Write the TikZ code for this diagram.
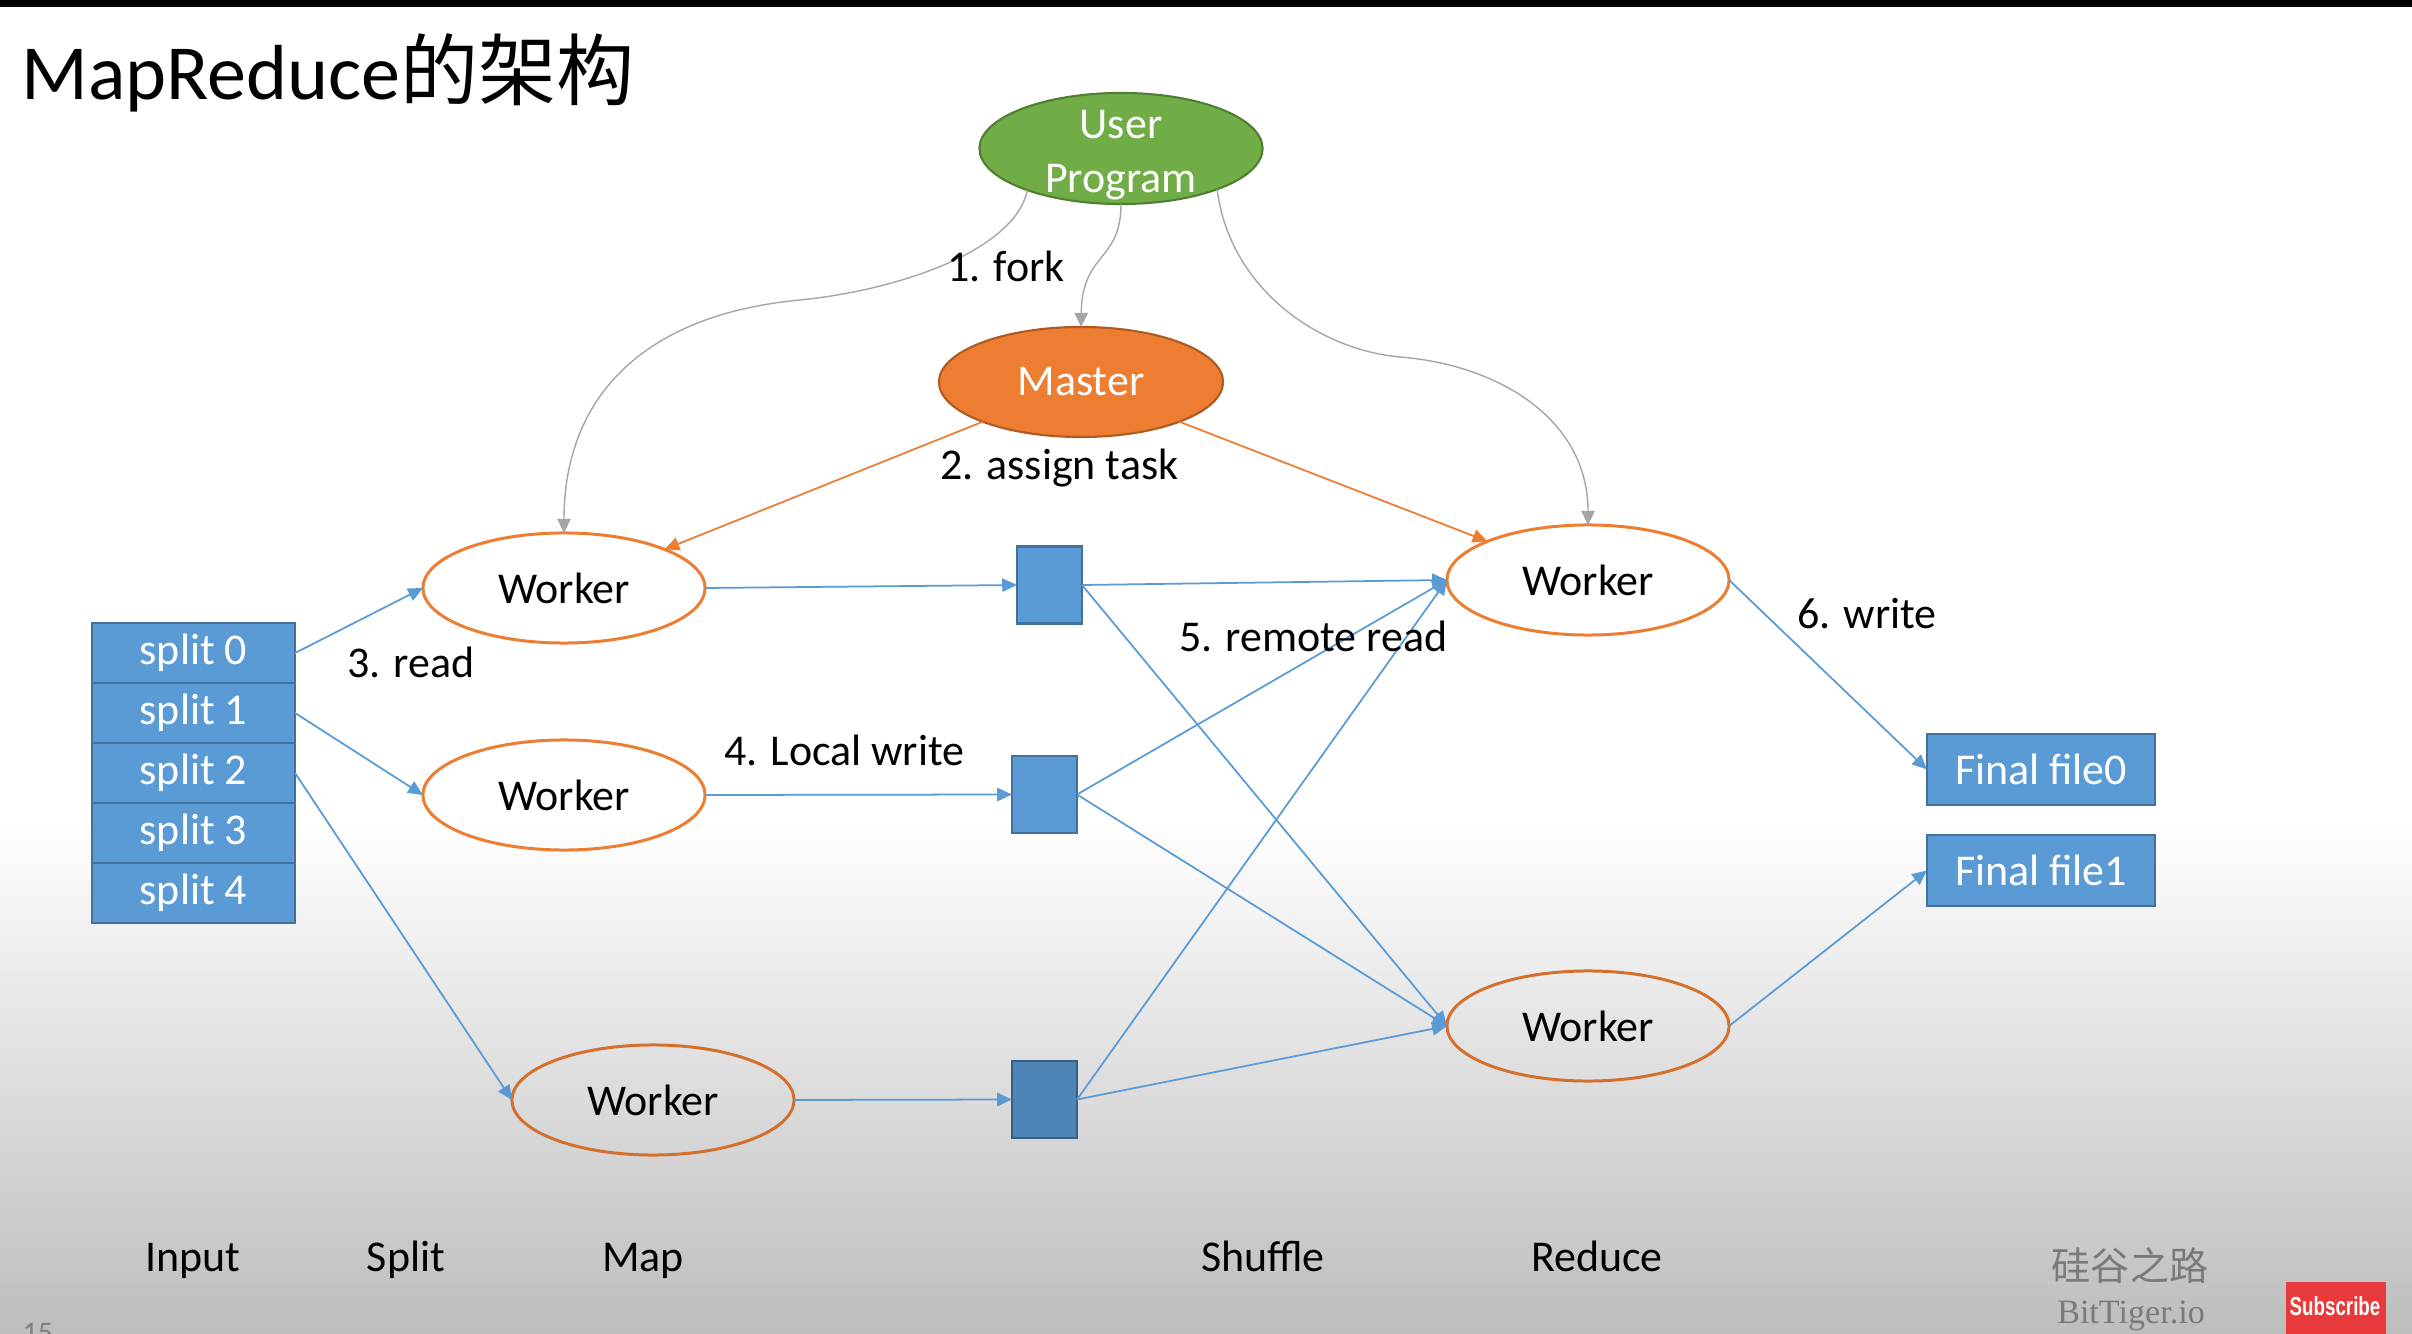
\documentclass[tikz,border=0pt]{standalone}
\usepackage{fontspec}
\setmainfont{Carlito}
\newfontfamily\cjk{Noto Sans CJK SC}
\newfontfamily\wmserif{Liberation Serif}
\newfontfamily\wmsans{Liberation Sans}
\usetikzlibrary{arrows.meta,shapes.geometric}
\definecolor{boxblue}{HTML}{5B9BD5}
\definecolor{boxline}{HTML}{41719C}
\definecolor{boxbluedark}{HTML}{4E85B6}
\definecolor{boxlinedark}{HTML}{375E85}
\definecolor{orng}{HTML}{ED7D31}
\definecolor{orngdim}{HTML}{D4702C}
\definecolor{orngdark}{HTML}{AE5A21}
\definecolor{grn}{HTML}{70AD47}
\definecolor{grndark}{HTML}{507E32}
\definecolor{forkgray}{HTML}{A6A6A6}
\definecolor{bggray}{HTML}{BDBDBD}
\definecolor{wmgray}{HTML}{7A7A7A}
\definecolor{subred}{HTML}{E8393B}
\begin{document}
\begin{tikzpicture}[x=0.01cm,y=-0.01cm,
  txt/.style={font=\fontsize{12.5}{14.5}\selectfont, inner sep=0pt, outer sep=0pt},
  lbl/.style={txt, text=black},
  splitbox/.style={txt, draw=boxline, fill=boxblue, line width=0.6pt, minimum width=2.03cm, minimum height=0.6cm, text=white},
  filebox/.style={txt, draw=boxline, fill=boxblue, line width=0.6pt, minimum width=2.28cm, minimum height=0.71cm, text=white},
  sqbox/.style={draw=boxline, fill=boxblue, line width=0.6pt, minimum width=0.65cm, minimum height=0.77cm, inner sep=0pt, outer sep=0pt},
  worker/.style={txt, ellipse, draw=orng, line width=0.85pt, minimum width=2.82cm, minimum height=1.1cm, text=black},
  blue arrow/.style={draw=boxblue, line width=0.5pt, -{Triangle[length=4.2pt,width=3.8pt]}},
  orange arrow/.style={draw=orng, line width=0.5pt, -{Triangle[length=4.2pt,width=3.8pt]}},
  gray arrow/.style={draw=forkgray, line width=0.4pt, -{Triangle[length=4pt,width=3.8pt]}}
]
\useasboundingbox (0,0) rectangle (2412,1334);
\fill[white] (0,0) rectangle (2412,1334);
\shade[top color=white, bottom color=bggray] (0,820) rectangle (2412,1334);
\fill[black] (0,0) rectangle (2412,7);

% title
\node[anchor=base west, inner sep=0pt, font=\fontsize{22.2}{26}\selectfont] (title) at (21,100) {MapReduce{\cjk 的架构}};

% top nodes
\node[ellipse, fill=grn, draw=grndark, line width=0.6pt, minimum width=2.83cm, minimum height=1.11cm, inner sep=0pt, outer sep=0pt] (user) at (1121,148.5) {};
\node[inner sep=0pt, text=white, align=center, font=\fontsize{12.5}{15.2}\selectfont] (usertext) at (1121,155) {User\\Program};
\node[txt, ellipse, fill=orng, draw=orngdark, line width=0.6pt, minimum width=2.84cm, minimum height=1.1cm, text=white] (master) at (1081,382) {Master};

% splits
\node[splitbox] (s0) at (193.5,653) {\raisebox{-0.9pt}{split 0}};
\node[splitbox] (s1) at (193.5,713) {\raisebox{-0.9pt}{split 1}};
\node[splitbox] (s2) at (193.5,773) {\raisebox{-0.9pt}{split 2}};
\node[splitbox] (s3) at (193.5,833) {\raisebox{-0.9pt}{split 3}};
\node[splitbox] (s4) at (193.5,893) {\raisebox{-0.9pt}{split 4}};

% workers
\node[worker] (w1) at (564,588) {Worker};
\node[worker] (w2) at (564,795) {Worker};
\node[worker, draw=orngdim] (w3) at (653,1100) {Worker};
\node[worker] (r1) at (1588,580) {Worker};
\node[worker, draw=orngdim] (r2) at (1588,1026) {Worker};

% intermediate files
\node[sqbox] (q1) at (1049.5,585) {};
\node[sqbox] (q2) at (1044.5,794.5) {};
\node[sqbox, fill=boxbluedark, draw=boxlinedark] (q3) at (1044.5,1099.5) {};

% final files
\node[filebox] (f0) at (2041,769.5) {Final file0};
\node[filebox] (f1) at (2041,870.5) {Final file1};

% fork
\draw[gray arrow] (user.204) .. controls (1015,250) and (900,290) .. (800,300)
   .. controls (640,315) and (564,400) .. (w1.north);
\draw[gray arrow] (user.south) .. controls (1121,262) and (1082,252) .. (master.north);
\draw[gray arrow] (user.337) .. controls (1230,290) and (1320,350) .. (1400,357)
   .. controls (1500,365) and (1588,420) .. (r1.north);

% assign
\draw[orange arrow] (master.202) -- (w1.21);
\draw[orange arrow] (master.338) -- (r1.159);

% read
\draw[blue arrow] (s0.east) -- (w1.west);
\draw[blue arrow] (s1.east) -- (w2.west);
\draw[blue arrow] (s2.east) -- (w3.west);

% local write
\draw[blue arrow] (w1.east) -- (q1.west);
\draw[blue arrow] (w2.east) -- (q2.west);
\draw[blue arrow] (w3.east) -- (q3.west);

% remote read
\draw[blue arrow] (q1.east) -- (r1.west);
\draw[blue arrow] (q1.east) -- (r2.west);
\draw[blue arrow] (q2.east) -- (r1.west);
\draw[blue arrow] (q2.east) -- (r2.west);
\draw[blue arrow] (q3.east) -- (r1.west);
\draw[blue arrow] (q3.east) -- (r2.west);

% write
\draw[blue arrow] (r1.east) -- (f0.west);
\draw[blue arrow] (r2.east) -- (f1.west);

% step labels
\node[lbl, anchor=base west] (lfork) at (947,282) {1. fork};
\node[lbl, anchor=base west] (lassign) at (940,480) {2. assign task};
\node[lbl, anchor=base west] (lread) at (347,678) {3. read};
\node[lbl, anchor=base west] (llocal) at (724,765) {4. Local write};
\node[lbl, anchor=base west] (lremote) at (1179,652) {5. remote read};
\node[lbl, anchor=base west] (lwrite) at (1797,629) {6. write};

% phase labels
\node[lbl, anchor=base] (pin) at (193,1271) {Input};
\node[lbl, anchor=base] (psplit) at (406,1271) {Split};
\node[lbl, anchor=base] (pmap) at (643,1271) {Map};
\node[lbl, anchor=base] (pshuffle) at (1263,1271) {Shuffle};
\node[lbl, anchor=base] (preduce) at (1597,1271) {Reduce};

% slide number (cut at the lower edge, as in the reference)
\node[anchor=base west, inner sep=0pt, text=gray, font=\fontsize{8.5}{10}\selectfont] (pageno) at (22,1342) {15};

% watermark
\node[inner sep=0pt, text=wmgray, font=\cjk\fontsize{11.1}{13}\selectfont] (wm1) at (2130,1266) {硅谷之路};
\node[anchor=base, inner sep=0pt, text=wmgray, font=\wmserif\fontsize{9.7}{11}\selectfont] (wm2) at (2131,1323) {BitTiger.io};
\node[fill=subred, minimum width=1cm, minimum height=0.52cm, inner sep=0pt, outer sep=0pt] (subs) at (2336,1308) {};
\node[inner sep=0pt, text=white, font=\wmsans\bfseries\fontsize{7.4}{8}\selectfont] (substext) at (2335,1306) {\scalebox{0.72}[1]{Subscribe}};
\end{tikzpicture}
\end{document}
